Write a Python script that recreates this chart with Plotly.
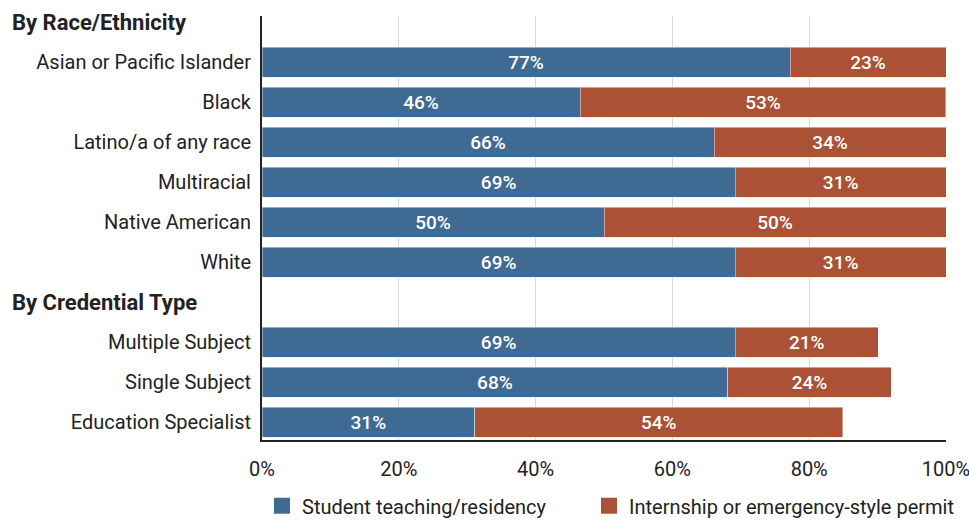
import plotly.graph_objects as go

# ---- data ----
race_categories = ["Asian or Pacific Islander", "Black", "Latino/a of any race",
                   "Multiracial", "Native American", "White"]
race_student = [77.2, 46.5, 66.1, 69.2, 50.0, 69.2]
race_intern = [22.8, 53.49, 33.9, 30.8, 50.0, 30.8]

cred_categories = ["Multiple Subject", "Single Subject", "Education Specialist"]
cred_student = [69.2, 68.1, 31.1]
cred_intern = [20.9, 23.9, 53.8]

group_titles = ["By Race/Ethnicity", "By Credential Type"]
series_names = ["Student teaching/residency", "Internship or emergency-style permit"]
x_ticks = [0, 20, 40, 60, 80, 100]
x_tick_labels = ["0%", "20%", "40%", "60%", "80%", "100%"]

BLUE = "#3e6a93"
RED = "#aa5136"
FONT = "Roboto"
TXT = "#222222"

# build row positions: header row then category rows for each group
groups = [(group_titles[0], race_categories, race_student, race_intern),
          (group_titles[1], cred_categories, cred_student, cred_intern)]
ys, labels, s_vals, i_vals, header_pos = [], [], [], [], []
row = 0
for title, cats, sv, iv in groups:
    header_pos.append((row, title))
    row += 1
    for c, a, b in zip(cats, sv, iv):
        ys.append(row)
        labels.append(c)
        s_vals.append(a)
        i_vals.append(b)
        row += 1

bar_font = dict(color="white", size=19, family=FONT, weight=500)
fig = go.Figure()
fig.add_trace(go.Bar(y=ys, x=s_vals, orientation="h", marker_color=BLUE,
                     width=0.75, name=series_names[0], showlegend=False,
                     text=[f"{v:.0f}%" for v in s_vals], textposition="inside",
                     insidetextanchor="middle", textfont=bar_font,
                     hoverinfo="skip"))
fig.add_trace(go.Bar(y=ys, x=i_vals, orientation="h", marker_color=RED,
                     width=0.75, name=series_names[1], showlegend=False,
                     text=[f"{v:.0f}%" for v in i_vals], textposition="inside",
                     insidetextanchor="middle", textfont=bar_font,
                     hoverinfo="skip"))
# legend entries with larger square swatches, one legend each
for name, col, lg in zip(series_names, [BLUE, RED], ["legend", "legend2"]):
    fig.add_trace(go.Scatter(x=[None], y=[None], mode="markers", name=name,
                             legend=lg,
                             marker=dict(symbol="square", size=20, color=col)))

for pos, title in header_pos:
    fig.add_annotation(x=0, xref="paper", xanchor="left", xshift=-252,
                       y=pos, yref="y", text=f"<b>{title}</b>", showarrow=False,
                       font=dict(size=22, family=FONT, color=TXT))

legend_common = dict(orientation="h", xanchor="left", y=-0.155, yanchor="middle",
                     font=dict(size=20, family=FONT, color=TXT), itemclick=False,
                     bgcolor="rgba(0,0,0,0)")
fig.update_layout(
    barmode="stack",
    width=969, height=521,
    margin=dict(l=262, r=23, t=16, b=81, autoexpand=False),
    plot_bgcolor="white", paper_bgcolor="white",
    font=dict(family=FONT, size=20, color=TXT),
    xaxis=dict(range=[0, 100], tickvals=x_ticks, ticktext=x_tick_labels,
               showgrid=True, gridcolor="#d9d9d9", gridwidth=1,
               showline=True, linecolor=TXT, linewidth=2,
               ticks="outside", ticklen=10, tickcolor="rgba(0,0,0,0)",
               ticklabeloverflow="allow",
               zeroline=False, fixedrange=True),
    yaxis=dict(range=[row - 1 + 0.45, -0.15], tickvals=ys, ticktext=labels,
               showgrid=False, showline=True, linecolor=TXT, linewidth=2,
               ticks="outside", ticklen=5, tickcolor="rgba(0,0,0,0)",
               zeroline=False, fixedrange=True),
    legend=dict(x=0, **legend_common),
    legend2=dict(x=(589 - 262) / 684, **legend_common),
    bargap=0.25,
)

fig.write_html("out.html")
